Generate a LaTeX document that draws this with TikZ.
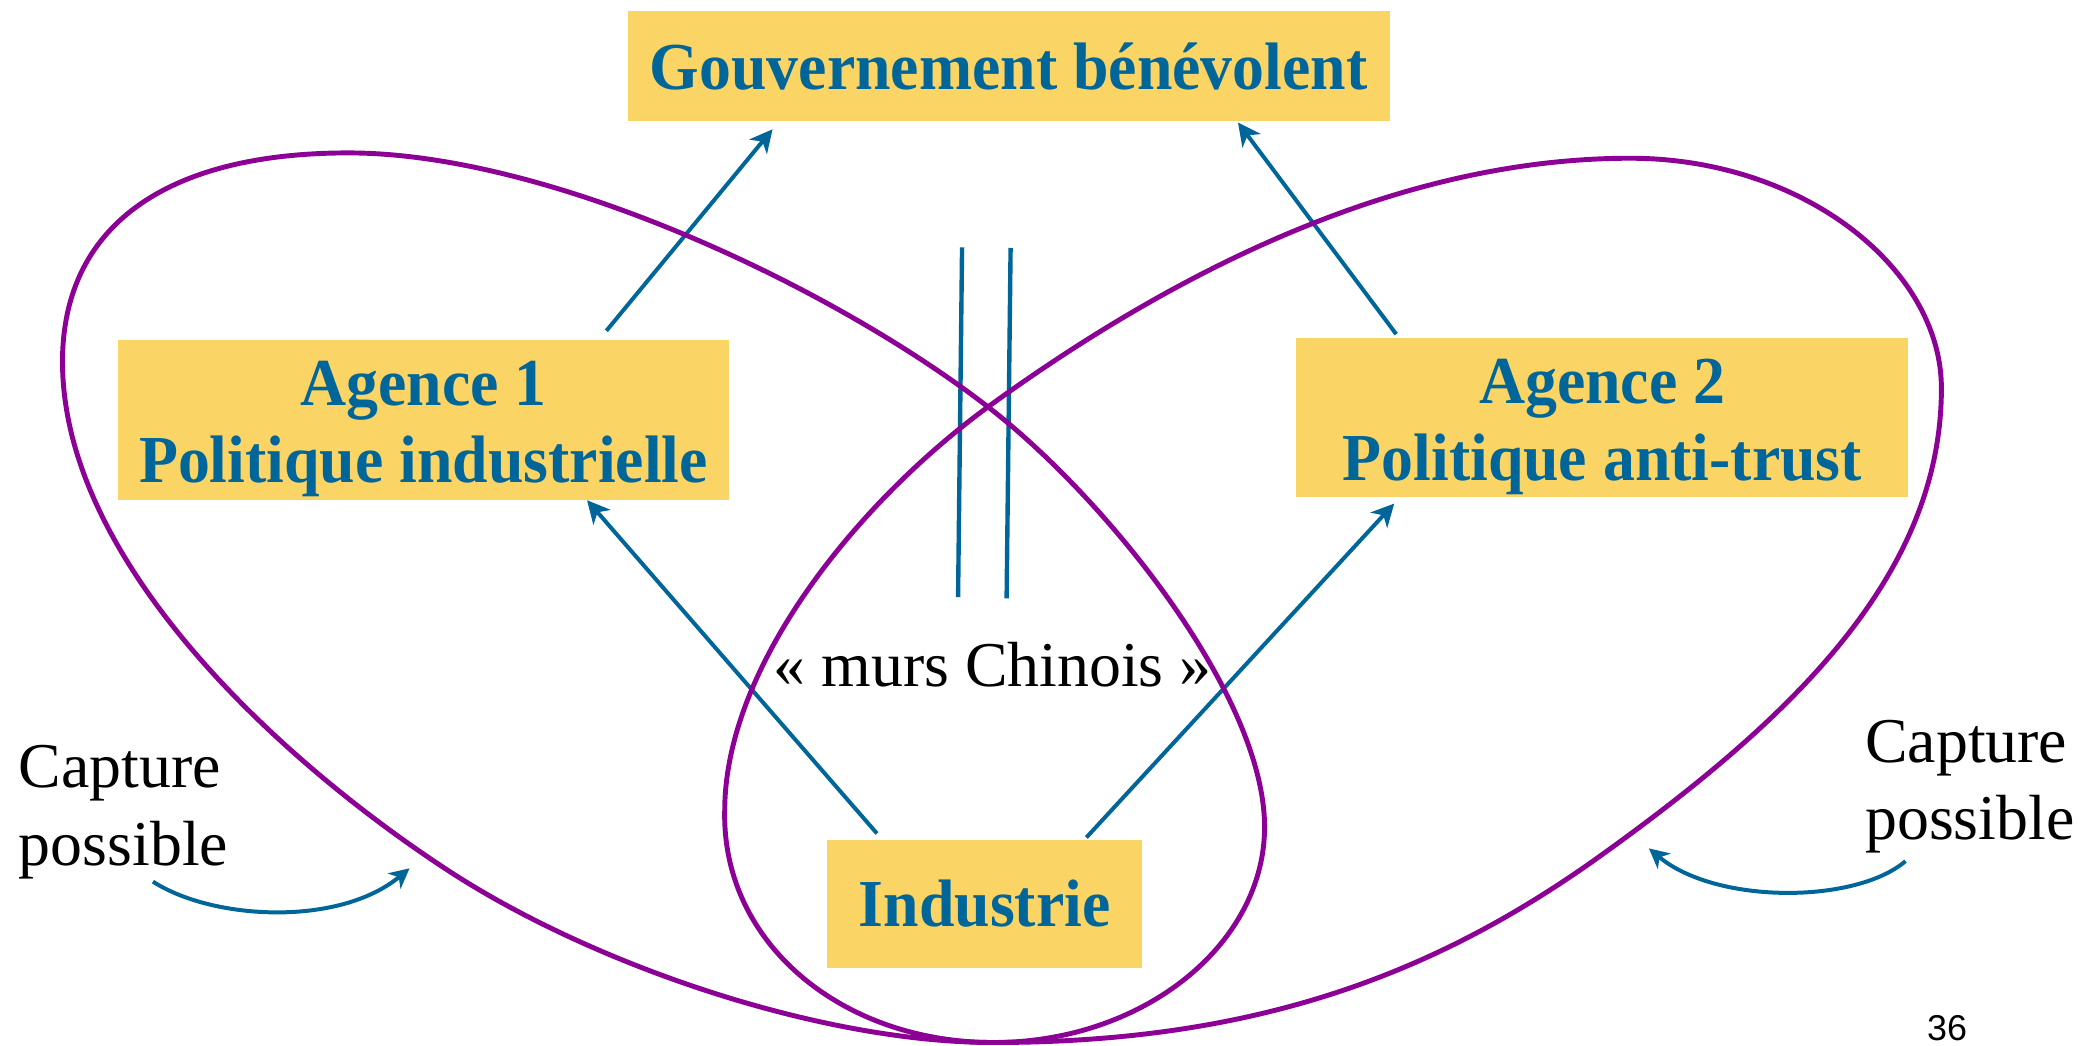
\documentclass[tikz,border=0pt]{standalone}
\usepackage{fontspec}
\setmainfont{Liberation Serif}
\newfontfamily\boxfont[FakeStretch=0.95]{Liberation Serif}
\newfontfamily\pagenumfont{Liberation Sans}
\usetikzlibrary{arrows.meta}
\definecolor{boxfill}{RGB}{251,212,102}
\definecolor{inkblue}{RGB}{0,102,153}
\definecolor{ringviolet}{RGB}{140,0,150}
\begin{document}
\begin{tikzpicture}[x=1pt,y=-1pt,
  box/.style={fill=boxfill, inner sep=0pt, text=inkblue, font=\boxfont\fontsize{50.5}{57}\selectfont\bfseries},
  boxlabel/.style={inner sep=0pt, text=inkblue, align=center, font=\boxfont\fontsize{50.5}{57.5}\selectfont\bfseries},
  note/.style={inner sep=0pt, align=left, font=\fontsize{48}{58}\selectfont},
  link/.style={draw=inkblue, line width=3pt, -{Stealth[length=17pt,width=17pt,inset=5pt]}},
  hook/.style={draw=inkblue, line width=3pt, -{Stealth[length=15pt,width=15pt,inset=4.5pt]}},
  wall/.style={draw=inkblue, line width=3.3pt},
  ring/.style={draw=ringviolet, line width=3.7pt},
]
\useasboundingbox (0,0) rectangle (1568,786);
\fill[white] (0,0) rectangle (1568,786);

% boxes
\node[box, minimum width=573pt, minimum height=83pt, text height=35pt, text depth=0pt]
  (gov) at (758.5,49.5) {Gouvernement bénévolent};
\node[box, minimum width=459pt, minimum height=120pt] (ag1) at (318.5,316) {};
\node[boxlabel, anchor=north] (ag1text) at (318.5,271.6) {Agence 1\\Politique industrielle};
\node[box, minimum width=460pt, minimum height=120pt] (ag2) at (1205,314) {};
\node[boxlabel, anchor=north] (ag2text) at (1205,270) {Agence 2\\Politique anti-trust};
\node[box, minimum width=237pt, minimum height=96pt, text height=34pt, text depth=0pt]
  (ind) at (740.5,680) {Industrie};

% influence arrows
\draw[link] ([shift={(137.5,-7)}]ag1.north) -- ([shift={(-177.5,6)}]gov.south);
\draw[link] ([shift={(-155,-2.5)}]ag2.north) -- ([shift={(172.5,1)}]gov.south);
\draw[link] ([shift={(-81,-5)}]ind.north) -- ([shift={(123,0)}]ag1.south);
\draw[link] ([shift={(76.5,-2)}]ind.north) -- ([shift={(-156.5,4.5)}]ag2.south);

% Chinese walls
\draw[wall] (723.5,186) -- (720.5,449);
\draw[wall] (760,186.5) -- (757,450);
\node[note, anchor=base] (murs) at (746.5,516.5) {«~murs Chinois~»};

% capture labels
\node[note, anchor=north west] (capl) at (14,560.6) {Capture\\possible};
\node[note, anchor=north west] (capr) at (1402.5,541.6) {Capture\\possible};
\coordinate (capltip) at (308,653);
\coordinate (caprtip) at (1240,638);
\draw[hook] ([shift={(101,2)}]capl.south west) .. controls (160,692) and (255,697) .. (capltip);
\draw[hook] ([shift={(30.5,5.6)}]capr.south west) .. controls (1395,680) and (1290,680) .. (caprtip);

% capture loops: both touch at the bottom and cross between the walls
\draw[ring] (747,784)
  .. controls (860,784) and (951,710) .. (951,622)
  .. controls (951,522) and (830,373) .. (743,306)
  .. controls (624.5,214.5) and (412,115) .. (262,115)
  .. controls (122,115) and (47,172) .. (47,272)
  .. controls (47,422) and (210,571.5) .. (336,654)
  .. controls (445,725.5) and (617,784) .. cycle;
\draw[ring] (747,784)
  .. controls (634,784) and (543,710) .. (545,610)
  .. controls (545,500) and (646,377) .. (743,306)
  .. controls (889,200) and (1056,119) .. (1226,119)
  .. controls (1356,119) and (1460,202) .. (1460,292)
  .. controls (1460,432) and (1348.8,539.6) .. (1203,644)
  .. controls (1081.5,731) and (947,784) .. cycle;

\node[anchor=base west, inner sep=0pt, font=\pagenumfont\fontsize{27}{30}\selectfont] (pagenum) at (1449,782.5) {36};
\end{tikzpicture}
\end{document}
